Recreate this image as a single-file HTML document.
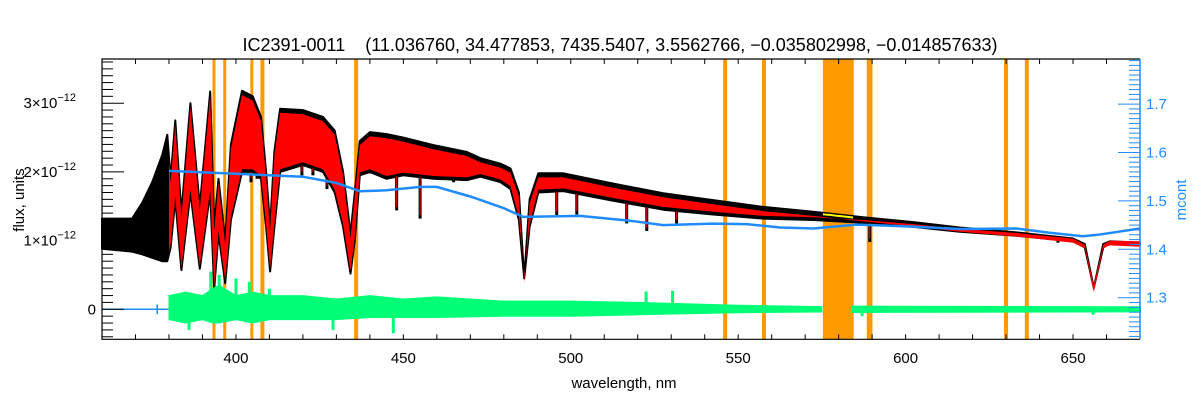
<!DOCTYPE html>
<html><head><meta charset="utf-8"><style>
body{margin:0;background:#fff;}
svg{display:block;font-family:"Liberation Sans",sans-serif;}
</style></head><body>
<svg id="chart" width="1200" height="400" viewBox="0 0 1200 400" xmlns="http://www.w3.org/2000/svg">
<rect x="0" y="0" width="1200" height="400" fill="#fff"/>
<g id="bands"></g>
<g id="series"></g>
<g id="axes"></g>
<text x="620" y="51" text-anchor="middle" font-size="18" fill="#000" xml:space="preserve">IC2391-0011    (11.036760, 34.477853, 7435.5407, 3.5562766, −0.035802998, −0.014857633)</text>
<text x="624" y="388" text-anchor="middle" font-size="15" fill="#000">wavelength, nm</text>
<text transform="translate(24,200) rotate(-90)" text-anchor="middle" font-size="15" fill="#000">flux, units</text>
<text transform="translate(1186,200) rotate(-90)" text-anchor="middle" font-size="15" fill="#1e8cff">mcont</text>
</svg>
<script>
// ---- data ----
const envWl    = [360,369,372,375,378,379.5,380.5,381.9,383.7,386.4,389.2,392.3,393.5,394.8,396.8,398.5,401.8,405,407.5,409,410.2,411.5,413.2,420,426,429.5,432,434.2,435.5,437,440,445,450,459,469,473,479,482,484.5,486.1,487.7,490.3,497.8,512.7,527.6,542.5,557.5,572.4,587.3,602.3,616.2,633.1,650,653.5,656.2,659,661,670];
const envUpper = [1.32,1.32,1.55,1.85,2.25,2.54,1.9,2.75,1.4,3.0,1.5,3.17,1.2,1.9,1.0,2.4,3.18,3.1,2.8,2.0,1.2,2.3,2.92,2.9,2.8,2.6,2.0,1.1,1.7,2.45,2.58,2.55,2.5,2.39,2.29,2.2,2.12,2.05,1.7,0.45,1.6,1.98,1.98,1.83,1.69,1.59,1.49,1.42,1.34,1.27,1.19,1.12,1.03,0.95,0.31,0.95,0.99,0.97];
const envLower = [0.88,0.84,0.8,0.75,0.7,0.7,0.9,1.6,0.57,1.7,0.59,1.7,0.3,1.1,0.38,1.3,2.0,2.0,1.9,1.2,0.55,1.2,2.0,2.1,2.0,1.7,1.2,0.52,1.0,1.95,2.0,1.9,1.95,1.9,1.88,1.93,1.85,1.75,1.3,0.45,1.2,1.7,1.72,1.58,1.45,1.38,1.32,1.3,1.26,1.2,1.13,1.07,0.99,0.9,0.31,0.9,0.96,0.95];
const lineWl   = [404.5,406.3,419.7,423,427.2,448,455,465,495.8,501.8,516.7,522.7,531.6,589.3,645.5,649.5];
const lineMin  = [1.85,1.9,1.95,1.95,1.75,1.44,1.32,1.85,1.37,1.38,1.25,1.14,1.25,0.98,0.97,0.98];
const mWl   = [380,400,420,430,437,445,455,460,470,473,480,485.8,502.8,517.7,527.6,542.5,552.5,562.5,572.4,585.4,602.2,616.2,633.1,643,652.9,657.4,670];
const mcont = [1.562,1.556,1.55,1.537,1.52,1.522,1.529,1.529,1.509,1.502,1.485,1.467,1.469,1.459,1.45,1.453,1.452,1.445,1.443,1.451,1.447,1.442,1.443,1.434,1.427,1.43,1.443];
const resWl = [380,385,390,393,395,400,405,410,420,430,440,450,460,480,500,520,550,575];
const resUp = [0.2,0.25,0.2,0.3,0.35,0.2,0.25,0.2,0.2,0.15,0.2,0.15,0.18,0.12,0.12,0.1,0.06,0.04];
const resLo = [-0.15,-0.2,-0.15,-0.2,-0.2,-0.15,-0.2,-0.15,-0.15,-0.15,-0.12,-0.12,-0.12,-0.1,-0.1,-0.08,-0.05,-0.04];
const res2Wl = [584,620,670];
const res2Up = [0.04,0.035,0.03];
const res2Lo = [-0.04,-0.035,-0.03];
const spikeWl  = [386,392.5,395,400,404,410,429,447,522.5,530.4,587,656];
const spikeVal = [-0.3,0.55,0.5,0.45,0.4,0.3,-0.3,-0.35,0.26,0.27,-0.1,-0.08];
const bandLo = [393.0,396.2,404.3,407.3,435.3,545.5,557.1,575.3,588.4,629.4,635.6];
const bandHi = [393.8,397.0,405.1,408.5,436.5,546.7,558.3,584.5,590.1,630.6,636.8];
const xTickVals = [400,450,500,550,600,650];
const yTickVals = [0,1,2,3];
const yTickLabels = ["0","1×10","2×10","3×10"];
const rTickVals = [1.3,1.4,1.5,1.6,1.7];
const rTickLabels = ["1.3","1.4","1.5","1.6","1.7"];
// ---- scales ----
const X0=102,X1=1140,YT=59,YB=339.3;
const X=l=>X0+(l-360)/(670-360)*(X1-X0);
const Y=f=>309.3-f*68.7;
const YR=m=>249.3-(m-1.4)*484;
const NS="http://www.w3.org/2000/svg";
function mk(tag,attrs,parent){const e=document.createElementNS(NS,tag);for(const k in attrs)e.setAttribute(k,attrs[k]);parent.appendChild(e);return e;}
function interp(xs,ys,x){if(x<=xs[0])return ys[0];for(let i=1;i<xs.length;i++){if(x<=xs[i]){const t=(x-xs[i-1])/(xs[i]-xs[i-1]);return ys[i-1]+t*(ys[i]-ys[i-1]);}}return ys[ys.length-1];}
const bands=document.getElementById('bands'),series=document.getElementById('series'),axes=document.getElementById('axes');
for(let i=0;i<bandLo.length;i++){
  const r=mk('rect',{x:X(bandLo[i]),y:YT,width:Math.max(X(bandHi[i])-X(bandLo[i]),3),height:YB-YT,fill:'#ff9900'},bands);
  
  
}
function bandPath(wl,up,lo,from,to,dU,dL){
  const pts=[];
  const xs=[from,...wl.filter(w=>w>from&&w<to),to];
  xs.forEach(w=>pts.push(X(w).toFixed(1)+','+Y(interp(wl,up,w)-dU).toFixed(1)));
  xs.slice().reverse().forEach(w=>pts.push(X(w).toFixed(1)+','+Y(interp(wl,lo,w)+dL).toFixed(1)));
  return 'M'+pts.join('L')+'Z';
}
const obs=mk('path',{d:bandPath(envWl,envUpper,envLower,360,670,0,0),fill:'#000',stroke:'#000','stroke-width':2,'stroke-linejoin':'round'},series);


for(let i=0;i<lineWl.length;i++){
  const l=mk('line',{x1:X(lineWl[i]),x2:X(lineWl[i]),y1:Y(interp(envWl,envLower,lineWl[i])),y2:Y(lineMin[i]),stroke:'#000','stroke-width':3},series);
  
  
}
const mod=mk('path',{d:bandPath(envWl,envUpper,envLower,380,670,0.06,0.04),fill:'#ff0000',stroke:'none'},series);


for(let i=0;i<lineWl.length;i++){
  const l=mk('line',{x1:X(lineWl[i]),x2:X(lineWl[i]),y1:Y(interp(envWl,envLower,lineWl[i])),y2:Y(lineMin[i]+0.05),stroke:'#ff0000','stroke-width':1},series);
  
  
}
const ypts=[];for(let w=575.3;w<=584.5;w+=1)ypts.push(X(w).toFixed(1)+','+Y(interp(envWl,envUpper,w)-0.02).toFixed(1));
const yl=mk('polyline',{points:ypts.join(' '),fill:'none',stroke:'#ffff00','stroke-width':2},series);


const bl=mk('polyline',{points:mWl.map((w,i)=>X(w).toFixed(1)+','+YR(mcont[i]).toFixed(1)).join(' '),fill:'none',stroke:'#1e8cff','stroke-width':2.5},series);


const zl=mk('line',{x1:X(360),x2:X(380),y1:Y(0),y2:Y(0),stroke:'#1e8cff','stroke-width':1.5},series);


const zt=mk('line',{x1:X(376.5),x2:X(376.5),y1:Y(0)-5,y2:Y(0)+5,stroke:'#1e8cff','stroke-width':1.5},series);


const g1=mk('path',{d:bandPath(resWl,resUp,resLo,380,575,0,0),fill:'#00ff77',stroke:'#00ff77','stroke-width':1},series);


const g2=mk('path',{d:bandPath(res2Wl,res2Up,res2Lo,584,670,0,0),fill:'#00ff77',stroke:'#00ff77','stroke-width':2},series);


for(let i=0;i<spikeWl.length;i++){
  const s=mk('line',{x1:X(spikeWl[i]),x2:X(spikeWl[i]),y1:Y(0),y2:Y(spikeVal[i]),stroke:'#00ff77','stroke-width':3},series);
  
  
}
const fr=mk('path',{d:`M${X1},${YT}H${X0}V${YB}H${X1}`,fill:'none',stroke:'#000','stroke-width':1.2},axes);


const ra=mk('line',{x1:X1,x2:X1,y1:YT,y2:YB,stroke:'#1e8cff','stroke-width':1.5},axes);


for(let w=370;w<=660;w+=10){
  mk('line',{x1:X(w),x2:X(w),y1:YB,y2:YB-5,stroke:'#000'},axes);
  mk('line',{x1:X(w),x2:X(w),y1:YT,y2:YT+5,stroke:'#000'},axes);
}
xTickVals.forEach(v=>{
  const t=mk('text',{x:X(v),y:363,'text-anchor':'middle','font-size':15,fill:'#000'},axes);
  t.textContent=String(v);
  
  
});
for(let k=-4;k<=36;k++){const f=k/10;const major=k%10===0;mk('line',{x1:X0,x2:X0+(major?22:11),y1:Y(f),y2:Y(f),stroke:'#000'},axes);}
yTickVals.forEach((v,i)=>{
  const t=mk('text',{x:96,y:Y(v)+5,'text-anchor':'end','font-size':15,fill:'#000'},axes);
  
  
  if(v===0){t.textContent=yTickLabels[i];}
  else{t.setAttribute('x',76);t.textContent=yTickLabels[i];const s=mk('tspan',{dy:-7,'font-size':11},t);s.textContent='−12';}
});
for(let k=122;k<=179;k++){const m=k/100;const major=k%10===0;mk('line',{x1:X1,x2:X1-(major?22:11),y1:YR(m),y2:YR(m),stroke:'#1e8cff'},axes);}
rTickVals.forEach((v,i)=>{
  const t=mk('text',{x:1146,y:YR(v)+5,'font-size':15,fill:'#1e8cff'},axes);
  t.textContent=rTickLabels[i];
  
  
});
</script>
</body></html>
